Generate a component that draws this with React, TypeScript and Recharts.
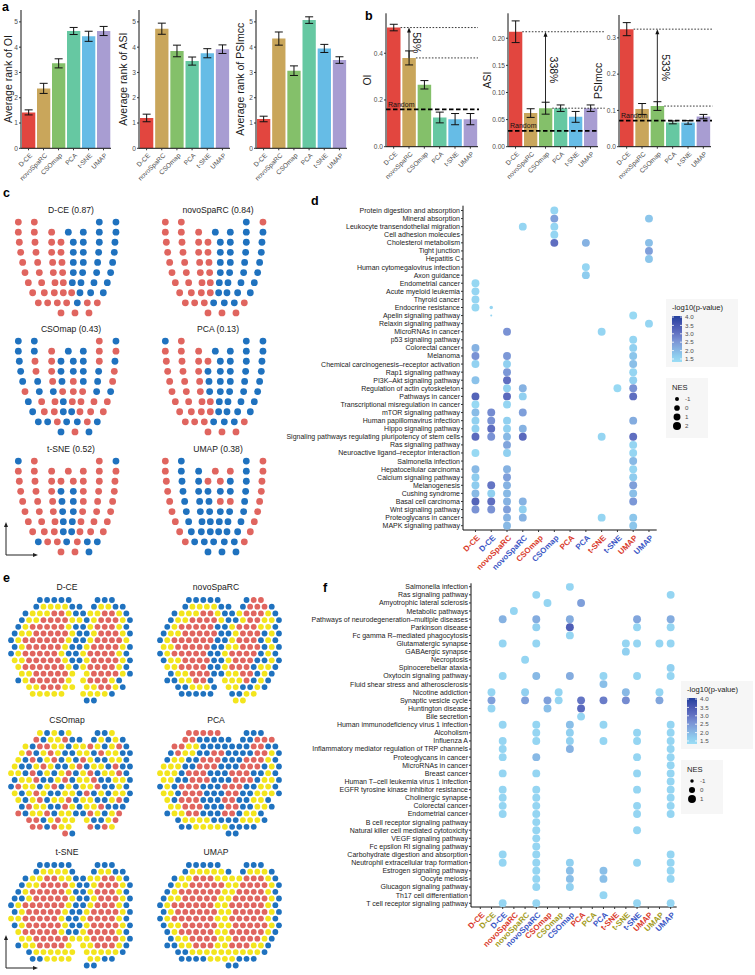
import React from 'react';
import { BarChart, Bar, XAxis, YAxis, Cell, ErrorBar, ReferenceLine, ScatterChart, Scatter } from 'recharts';

const FONT = '"Liberation Sans", Arial, Helvetica, sans-serif';
const INK = '#1a1a1a';
const TICK = '#4d4d4d';

// ---- panels a / b
const methods = ['D-CE', 'novoSpaRC', 'CSOmap', 'PCA', 't-SNE', 'UMAP'];
const methodColors = ['#E2463F', '#C9A65B', '#84C06A', '#66C8A2', '#66BCE6', '#A89DD2'];

const rankOI = [1.42, 2.37, 3.36, 4.64, 4.43, 4.64];
const rankOIErr = [0.1, 0.2, 0.18, 0.14, 0.2, 0.18];
const rankASI = [1.2, 4.73, 3.85, 3.45, 3.76, 3.92];
const rankASIErr = [0.15, 0.22, 0.23, 0.16, 0.18, 0.17];
const rankPSI = [1.16, 4.34, 3.07, 5.07, 3.95, 3.49];
const rankPSIErr = [0.11, 0.26, 0.19, 0.13, 0.16, 0.13];
const rankTicks = [0, 1, 2, 3, 4, 5];

const scoreOI = [0.51, 0.38, 0.265, 0.125, 0.118, 0.118];
const scoreOIErr = [0.014, 0.03, 0.018, 0.023, 0.024, 0.024];
const scoreASI = [0.212, 0.062, 0.071, 0.071, 0.055, 0.071];
const scoreASIErr = [0.02, 0.008, 0.011, 0.006, 0.01, 0.006];
const scorePSI = [0.324, 0.104, 0.112, 0.067, 0.067, 0.083];
const scorePSIErr = [0.018, 0.015, 0.012, 0.004, 0.005, 0.006];
const randomScores = [0.16, 0.029, 0.072];
const gainLabels = ['58%', '338%', '533%'];

// ---- panel c (spatial layout of cells, one string of colours per row)
const cRowX = [
  [55, 103, 298, 348],
  [55, 103, 155, 205, 250, 298, 348],
  [58, 105, 155, 183, 220, 250, 298, 345],
  [62, 108, 155, 183, 220, 250, 296, 343],
  [68, 113, 158, 186, 220, 250, 293, 338],
  [75, 118, 160, 188, 220, 248, 290, 332],
  [85, 125, 165, 190, 217, 243, 282, 322],
  [98, 133, 163, 190, 215, 240, 272, 310],
  [115, 143, 172, 200, 232, 262, 292],
  [183, 225, 267],
];
const cTitles = ['D-CE (0.87)', 'novoSpaRC (0.84)', 'CSOmap (0.43)', 'PCA (0.13)', 't-SNE (0.52)', 'UMAP (0.38)'];
const cDCE = ['rrbb', 'rrrbbbb', 'rrrrbbbb', 'rrrrbbbb', 'rrrrbbbb', 'rrrrbbbb', 'rrrrbbbb', 'rrrrrbbb', 'rrrrbrr', 'rrr'];
const cNovo = ['rrbr', 'rrrbbbb', 'rrrrbbbb', 'rrrrbbbb', 'rrrrbbbb', 'rrrrbbbb', 'rrrrbbbb', 'rrrrbbbb', 'rrrbbbr', 'rrr'];
const cCSO = ['bbrb', 'bbrbbrr', 'brrbbbrb', 'brrbbbbr', 'bbrbrbbr', 'rbbrrrbb', 'brrbrrrr', 'brrbbrrr', 'bbrbbrb', 'brb'];
const cPCA = ['brbb', 'rrrbbbb', 'rrrrbbbb', 'rrrbbbbb', 'rrrbbbbb', 'rrrbbbbb', 'rrrrbbbb', 'rrrrbbbb', 'rrrbbbr', 'rrr'];
const cTSNE = ['brrb', 'rrrrrrr', 'rrrrrrrr', 'rrrbbrrr', 'rrrbbrrr', 'rrrbbrrr', 'rrrbbrrr', 'rrrbbrrr', 'brrbrbb', 'rrb'];
const cUMAP = ['rbbr', 'rbbrrbr', 'rbbrrbbr', 'rbbbbbbr', 'rbbbrrbr', 'rbbbbbbr', 'rbbbbbbr', 'rbbbbbbr', 'rbbbbbr', 'bbb'];
const cColors = [cDCE, cNovo, cCSO, cPCA, cTSNE, cUMAP];

// ---- panel e (hex spots, '.' = no spot)
const eTitles = ['D-CE', 'novoSpaRC', 'CSOmap', 'PCA', 't-SNE', 'UMAP'];
const eDCE = [
  '....bbbbb...bbb..', '...byyyybb.byybb.', '..byyyrrybbyyrryb', '.byyrrrryybyrrryb',
  '.byrrrrrybbyrrryb', 'byyrrrrrybbyrrryb', 'byrrrrrrybbyrrrry', 'byrrrrrybbyrrrryb',
  'byrrrrrybbyrrrryb', 'yyrrrrrybbyrrrryb', '.yrrrrrrybyrrrryb', '.yyrrrrry.yrrrryb',
  '.byrrrrry.yrrryb.', '..yyrrryy.yyrryb.', '...yyyyy..yyyyb..', '..........bb.....',
];
const eNovo = [
  '....bbbbb...brr..', '...byyyybb.brrrb.', '..byyyrrybbyrrryb', '.byyrrrrybbyrryyb',
  '.byrrrrrbbyrrryyb', 'byyrrrrrbbyrrrbyb', 'byrrrrrrbbyrrrbyb', 'yyrrrrrbbyyrrrbyb',
  'byrrrrrbbyrrrrbyb', 'byyrrrrbbyrrrbbyb', '.yyrrrrbbyrrrbyyb', '.byyrrrbbyyrrbyb.',
  '.bbyyrrb.yyyrbyb.', '..bbyyyb.yybbyb..', '...bbbbb..bbyy...', '..........yy.....',
];
const eCSO = [
  '....ybyby...bby..', '...rbyyrbb.bybyb.', '..ybrryybyyrybyrb', '.yrbyrybbyybryybb',
  '.ybrbyrbybrybbyyb', 'ybbyrybbyrbyybrbb', 'yybrbybyrbyrbyyrb', 'byyrbbyrbyyrbbyyb',
  'bryybyrbybyyrbbyb', 'ybyrybbyybrbybyyb', '.ybyrbyyrbyybbyrb', '.bryybbrybyyrbbb.',
  '.rbyyrbyybbrybyr.', '..rrbyryy.ybbyr..', '...rrbryy..rbry..', '.......rb........',
];
const ePCA = [
  '....rrrrr...bbb..', '...rrbbbbb.bbrrr.', '..rryybbbbbbbrrbb', '.bryybbrrbbbbrryb',
  '.byybbrrrbbbrrryb', 'yyybbrrrbbbrrrbyb', 'yyybrrrbbbrrrbbyb', 'yybbrrrbbbrrrbyyb',
  'bybrrrbbbrrrbbyyb', 'yybrrrbbbrrbbyyyb', '.ybrrrbbbrrbbyyb.', '.yyrrrbbbrrbbyyb.',
  '.byyrrbbbrrbyyb..', '..byyyybbbbyyyb..', '...bbyyyyybbbb...', '.........bb......',
];
const eTSNE = [
  '....bbbbb...bbb..', '...byyyyb..byybb.', '..byyrryybbyyrryb', '.byyrrrrybbyrrryb',
  '.byrrrrrybbyrrryb', 'bbyrrrrrybbyrrryb', 'byrrrrrrybbyrrryb', 'byrrrrrybbyrrrryb',
  'yyrrrrrybbyrrrryb', 'byrrrrrybbyrrrryb', '.yrrrrrybbyrrrryb', '.yyrrrrryyyrrrryb',
  '.byyrrrry.yyrrryb', '..byyyyyy.yyyyyb.', '...bbyyyy..yybb..', '..........bb.....',
];
const eUMAP = [
  '....bbbbb...bbb..', '...byyyyyb.byyyb.', '..byyrrryyyyrrryb', '.byyrrrrryyrrrryb',
  '.byrrrrrryyrrrryb', 'byyrrrrryyrrrrryb', 'byrrrrrryyrrrrryb', 'byrrrrrryyrrrrryb',
  'byrrrrrryyrrrrryb', 'byyrrrrryyrrrrryb', '.byrrrrryyrrrrryb', '.byyrrrryyrrrryb.',
  '.bbyyrrryyrrryyb.', '..bbyyyyyyyyyyb..', '...bbbbyyyybbb...', '.........bb......',
];
const eMaps = [eDCE, eNovo, eCSO, ePCA, eTSNE, eUMAP];

// ---- panel d (KEGG enrichment, columns = method x domain)
const dPathways = [
  'Protein digestion and absorption', 'Mineral absorption', 'Leukocyte transendothelial migration', 'Cell adhesion molecules',
  'Cholesterol metabolism', 'Tight junction', 'Hepatitis C', 'Human cytomegalovirus infection', 'Axon guidance',
  'Endometrial cancer', 'Acute myeloid leukemia', 'Thyroid cancer', 'Endocrine resistance', 'Apelin signaling pathway',
  'Relaxin signaling pathway', 'MicroRNAs in cancer', 'p53 signaling pathway', 'Colorectal cancer', 'Melanoma',
  'Chemical carcinogenesis\u2013receptor activation', 'Rap1 signaling pathway', 'PI3K\u2013Akt signaling pathway',
  'Regulation of actin cytoskeleton', 'Pathways in cancer', 'Transcriptional misregulation in cancer', 'mTOR signaling pathway',
  'Human papillomavirus infection', 'Hippo signaling pathway', 'Signaling pathways regulating pluripotency of stem cells',
  'Ras signaling pathway', 'Neuroactive ligand\u2013receptor interaction', 'Salmonella infection', 'Hepatocellular carcinoma',
  'Calcium signaling pathway', 'Melanogenesis', 'Cushing syndrome', 'Basal cell carcinoma', 'Wnt signaling pathway',
  'Proteoglycans in cancer', 'MAPK signaling pathway',
];
const dGroups = ['red', 'blue'];
// per column: [row, -log10(p), NES]
const dHits = [
  [[10, 1.45, 1.9], [11, 1.5, 1.9], [12, 1.5, 1.9], [13, 1.45, 1.9], [18, 2.1, 1.9], [19, 2.6, 1.9], [20, 1.55, 1.9], [22, 1.85, 1.9], [24, 3.3, 1.9], [25, 1.4, 1.9], [26, 1.95, 1.9], [27, 1.6, 1.9], [28, 1.6, 1.9], [29, 3.2, 1.9], [31, 1.4, 1.9], [33, 2.0, 1.9], [34, 1.7, 1.9], [35, 1.7, 1.9], [36, 2.0, 1.9], [37, 3.3, 1.9], [38, 2.6, 1.9]],
  [[13, 1.5, -1.25], [14, 1.5, -1.75], [26, 2.7, 1.9], [27, 2.6, 1.9], [28, 3.1, 1.9], [29, 2.6, 1.9], [35, 3.0, 1.9], [36, 1.6, 1.9], [37, 3.1, 1.9], [38, 2.6, 1.9]],
  [[16, 2.6, 1.9], [19, 2.5, 1.9], [20, 1.6, 1.9], [21, 2.5, 1.9], [22, 3.1, 1.9], [23, 1.6, 1.9], [24, 3.2, 1.9], [25, 1.5, 1.9], [27, 1.6, 1.9], [28, 1.6, 1.9], [29, 2.0, 1.9], [30, 2.3, 1.9], [31, 1.6, 1.9], [33, 2.1, 1.9], [34, 2.4, 1.9], [35, 2.1, 1.9], [36, 2.0, 1.9], [37, 2.1, 1.9], [38, 2.4, 1.9], [39, 2.1, 1.9], [40, 2.0, 1.9]],
  [[3, 1.5, 1.9], [23, 2.1, 1.9], [24, 1.6, 1.9], [26, 2.4, 1.9], [28, 2.1, 1.9], [29, 3.2, 1.9], [37, 2.1, 1.9], [38, 1.6, 1.9], [39, 2.1, 1.9]],
  [],
  [[1, 1.5, 1.9], [2, 2.4, 1.9], [3, 1.5, 1.9], [4, 1.5, 1.9], [5, 3.1, 1.9]],
  [],
  [[5, 2.1, 1.9], [8, 1.5, 1.9], [9, 1.7, 1.9]],
  [[16, 1.5, 1.9], [29, 1.5, 1.9], [39, 1.5, 1.9]],
  [[23, 1.4, 1.9]],
  [[14, 1.4, 1.9], [17, 1.5, 1.9], [18, 1.6, 1.9], [19, 1.8, 1.9], [20, 1.9, 1.9], [21, 1.5, 1.9], [22, 1.6, 1.9], [23, 2.6, 1.9], [24, 3.1, 1.9], [27, 2.2, 1.9], [29, 3.1, 1.9], [30, 1.5, 1.9], [31, 1.5, 1.9], [32, 2.0, 1.9], [33, 1.5, 1.9], [34, 1.7, 1.9], [35, 2.4, 1.9], [36, 1.9, 1.9], [37, 2.5, 1.9], [39, 1.8, 1.9], [40, 1.8, 1.9]],
  [[2, 1.8, 1.9], [5, 1.9, 1.9], [6, 2.4, 1.9], [7, 1.8, 1.9], [15, 1.5, 1.9]],
];
const dNesTicks = [-1, 0, 1, 2];

// ---- panel f
const fPathways = [
  'Salmonella infection', 'Ras signaling pathway', 'Amyotrophic lateral sclerosis', 'Metabolic pathways',
  'Pathways of neurodegeneration\u2013multiple diseases', 'Parkinson disease', 'Fc gamma R\u2013mediated phagocytosis',
  'Glutamatergic synapse', 'GABAergic synapse', 'Necroptosis', 'Spinocerebellar ataxia', 'Oxytocin signaling pathway',
  'Fluid shear stress and atherosclerosis', 'Nicotine addiction', 'Synaptic vesicle cycle', 'Huntington disease',
  'Bile secretion', 'Human immunodeficiency virus 1 infection', 'Alcoholism', 'Influenza A',
  'Inflammatory mediator regulation of TRP channels', 'Proteoglycans in cancer', 'MicroRNAs in cancer', 'Breast cancer',
  'Human T\u2013cell leukemia virus 1 infection', 'EGFR tyrosine kinase inhibitor resistance', 'Cholinergic synapse',
  'Colorectal cancer', 'Endometrial cancer', 'B cell receptor signaling pathway', 'Natural killer cell mediated cytotoxicity',
  'VEGF signaling pathway', 'Fc epsilon RI signaling pathway', 'Carbohydrate digestion and absorption',
  'Neutrophil extracellular trap formation', 'Estrogen signaling pathway', 'Oocyte meiosis', 'Glucagon signaling pathway',
  'Th17 cell differentiation', 'T cell receptor signaling pathway',
];
const fGroups = ['red', 'olive', 'blue'];
const fHits = [
  [],
  [[14, 1.5, 1], [15, 2.4, 1], [16, 1.5, 1]],
  [[5, 2.1, 1], [8, 1.5, 1], [12, 1.5, 1], [18, 1.5, 1], [20, 1.5, 1], [21, 1.5, 1], [22, 1.5, 1], [24, 1.5, 1], [26, 1.5, 1], [27, 1.5, 1], [28, 1.5, 1], [29, 1.5, 1], [34, 1.5, 1], [35, 1.5, 1], [40, 1.5, 1]],
  [[4, 1.5, 1]],
  [[10, 1.5, 1], [14, 1.6, 1], [15, 2.4, 1]],
  [[2, 1.5, 1], [5, 2.2, 1], [6, 1.6, 1], [8, 1.5, 1], [12, 2.0, 1], [18, 1.5, 1], [19, 1.5, 1], [20, 1.5, 1], [22, 2.0, 1], [24, 1.5, 1], [26, 1.5, 1], [27, 1.5, 1], [28, 1.5, 1], [29, 1.5, 1], [30, 1.5, 1], [31, 1.5, 1], [32, 1.5, 1], [33, 1.5, 1], [34, 1.5, 1], [35, 1.5, 1], [36, 1.5, 1], [37, 1.5, 1], [38, 1.5, 1], [40, 1.5, 1]],
  [[3, 1.5, 1], [15, 2.4, 1], [16, 1.9, 1]],
  [[14, 1.5, 1], [15, 1.5, 1]],
  [[1, 1.5, 1], [5, 2.2, 1], [6, 3.4, 1], [7, 1.5, 1], [12, 2.2, 1], [18, 1.9, 1], [19, 1.6, 1], [20, 1.6, 1], [21, 2.1, 1], [35, 1.6, 1], [36, 1.9, 1], [37, 1.9, 1], [38, 1.6, 1]],
  [[3, 2.4, 1], [15, 3.0, 1], [16, 3.2, 1], [17, 1.5, 1]],
  [],
  [[12, 1.5, 1], [13, 1.9, 1], [15, 2.9, 1], [18, 1.5, 1], [20, 1.5, 1], [36, 1.9, 1], [37, 1.9, 1], [39, 1.5, 1]],
  [],
  [[8, 1.5, 1], [9, 1.6, 1], [14, 2.0, 1], [15, 2.7, 1]],
  [[5, 2.3, 1], [6, 1.5, 1], [8, 1.5, 1], [12, 1.5, 1], [19, 1.5, 1], [20, 1.5, 1], [22, 1.5, 1], [24, 1.5, 1], [26, 1.5, 1], [28, 1.5, 1], [29, 1.5, 1], [31, 1.5, 1], [35, 1.5, 1], [40, 1.5, 1]],
  [],
  [[8, 1.5, 1], [14, 1.5, 1], [15, 2.3, 1]],
  [[2, 1.5, 1], [5, 2.2, 1], [6, 1.5, 1], [8, 1.5, 1], [11, 1.6, 1], [12, 1.5, 1], [18, 1.5, 1], [19, 1.5, 1], [20, 1.5, 1], [21, 1.5, 1], [22, 1.5, 1], [23, 1.5, 1], [24, 1.5, 1], [25, 1.5, 1], [26, 1.5, 1], [27, 1.5, 1], [28, 1.5, 1], [29, 1.5, 1], [34, 1.5, 1], [35, 1.5, 1], [36, 1.5, 1], [37, 1.5, 1], [40, 1.5, 1]],
];
const fNesTicks = [-1, 0, 1];
const pTicks = [1.5, 2.0, 2.5, 3.0, 3.5, 4.0];

// ---- styling helpers
const groupColors: Record<string, string> = { red: '#D93A2B', olive: '#A39B22', blue: '#3A56C5' };
const spotColors: Record<string, string> = { r: '#E0655F', b: '#1F72BF', y: '#F3E51D' };
const pStops: [number, string][] = [
  [1.3, '#9BDDF5'], [1.7, '#8ECCEE'], [2.1, '#86B2E2'], [2.6, '#7A92D4'], [3.1, '#5F6EC0'], [3.6, '#4454AF'], [4.1, '#223F9C'],
];
const PMIN = 1.32;
const PMAX = 4.06;

function mix(a: string, b: string, t: number) {
  const pa = [1, 3, 5].map((i) => parseInt(a.slice(i, i + 2), 16));
  const pb = [1, 3, 5].map((i) => parseInt(b.slice(i, i + 2), 16));
  return 'rgb(' + pa.map((v, i) => Math.round(v + (pb[i] - v) * t)).join(',') + ')';
}
function pColor(v: number) {
  if (v <= pStops[0][0]) return pStops[0][1];
  for (let i = 1; i < pStops.length; i++) {
    if (v <= pStops[i][0]) {
      const [x0, c0] = pStops[i - 1];
      const [x1, c1] = pStops[i];
      return mix(c0, c1, (v - x0) / (x1 - x0));
    }
  }
  return pStops[pStops.length - 1][1];
}
const dRadius = (nes: number) => Math.sqrt(Math.max(0.8, 8 + 4 * nes));
const fRadius = (nes: number) => Math.sqrt(Math.max(0.8, 9.3 + 6.3 * nes));

// ---- shared pieces
const RotTick = (props: any) => {
  const { x, y, payload, labels, colors, fontSize, bold } = props;
  const i = payload.value;
  return (
    <g transform={`translate(${x},${y + 1})`}>
      <text transform="rotate(-45)" textAnchor="end" dy="0.72em" dx={1} fontSize={fontSize} fontFamily={FONT}
        fontWeight={bold ? 'bold' : 'normal'} fill={colors ? colors[i] : TICK}>
        {labels[i]}
      </text>
    </g>
  );
};

const NameTick = (props: any) => {
  const { x, y, payload, names } = props;
  return (
    <text x={x} y={y} dy="0.35em" textAnchor="end" fontSize={7} fontFamily={FONT} fill={INK}>
      {names[payload.value - 1]}
    </text>
  );
};

const Arrow = (props: any) => {
  const { x1, y1, x2, y2, label } = props;
  const mid = (y1 + y2) / 2;
  return (
    <g>
      <line x1={x1} y1={y1} x2={x2} y2={y2 + 3} stroke="#111" strokeWidth={0.9} />
      <path d={`M${x2},${y2} L${x2 - 2},${y2 + 5} L${x2 + 2},${y2 + 5} Z`} fill="#111" />
      <text transform={`translate(${x1 + 8},${mid}) rotate(90)`} textAnchor="middle" dy="0.35em" fontSize={10.5} fontFamily={FONT} fill="#111">
        {label}
      </text>
    </g>
  );
};

const RandomLine = (props: any) => {
  const { x1, y1, x2, y2 } = props;
  return (
    <g>
      <line x1={x1} y1={y1} x2={x2 + 1} y2={y2} stroke="#000" strokeWidth={1.8} strokeDasharray="4.5 2.5" />
      <text x={x1 + 2} y={y1 - 2.6} fontSize={7} fontFamily={FONT} fill="#111">Random</text>
    </g>
  );
};

function BarPanel(props: any) {
  const { left, yAxisW, plotW, extraR, top, bottom, values, errors, yMax, yTicks, digits, yLabel, labelOffset,
    barSize, random, upper, lower, lowerIdx, lineEnd, gain } = props;
  const data = methods.map((m, i) => ({ idx: i, v: values[i], e: errors[i] }));
  const H = 188;
  return (
    <div style={{ position: 'absolute', left, top: 0 }}>
      <BarChart width={yAxisW + plotW + extraR} height={H} data={data} margin={{ top, right: extraR, left: 0, bottom: 0 }}>
        <XAxis type="number" dataKey="idx" domain={[-0.5, 5.5]} ticks={[0, 1, 2, 3, 4, 5]} interval={0} allowDataOverflow
          height={H - bottom} tickSize={2} axisLine={{ stroke: '#111' }} tickLine={{ stroke: '#333' }}
          tick={(p: any) => <RotTick {...p} labels={methods} fontSize={6.6} />} />
        <YAxis type="number" domain={[0, yMax]} ticks={yTicks} interval={0} width={yAxisW} allowDataOverflow
          tickSize={2} tickMargin={1} axisLine={{ stroke: '#111' }} tickLine={{ stroke: '#333' }}
          tickFormatter={(v: number) => v.toFixed(digits)}
          tick={{ fontSize: 6.6, fill: TICK, fontFamily: FONT }}
          label={{ value: yLabel, angle: -90, position: 'insideLeft', offset: labelOffset, textAnchor: 'middle',
            style: { fontSize: 10.5, fill: INK, fontFamily: FONT } }} />
        <Bar dataKey="v" barSize={barSize} isAnimationActive={false}>
          {data.map((d, i) => <Cell key={i} fill={methodColors[i]} />)}
          <ErrorBar dataKey="e" width={4} stroke="#111" strokeWidth={1} direction="y" />
        </Bar>
        {upper !== undefined && (
          <ReferenceLine segment={[{ x: 0.45, y: upper }, { x: lineEnd, y: upper }]} ifOverflow="visible"
            stroke="#222" strokeWidth={0.9} strokeDasharray="1.6 1.6" />
        )}
        {upper !== undefined && (
          <ReferenceLine segment={[{ x: lowerIdx + 0.45, y: lower }, { x: lineEnd, y: lower }]} ifOverflow="visible"
            stroke="#222" strokeWidth={0.9} strokeDasharray="1.6 1.6" />
        )}
        {upper !== undefined && (
          <ReferenceLine segment={[{ x: lowerIdx, y: lower }, { x: lowerIdx, y: upper }]} ifOverflow="visible"
            shape={(p: any) => <Arrow {...p} label={gain} />} />
        )}
        {random !== undefined && (
          <ReferenceLine y={random} ifOverflow="visible" shape={(p: any) => <RandomLine {...p} />} />
        )}
      </BarChart>
    </div>
  );
}

function SpotChart({ left, top, width, height, points, xDomain, yDomain, r }: any) {
  return (
    <div style={{ position: 'absolute', left, top }}>
      <ScatterChart width={width} height={height} margin={{ top: 0, right: 0, bottom: 0, left: 0 }}>
        <XAxis type="number" dataKey="x" domain={xDomain} hide allowDataOverflow />
        <YAxis type="number" dataKey="y" domain={yDomain} reversed hide allowDataOverflow />
        <Scatter data={points} isAnimationActive={false}
          shape={(p: any) => <circle cx={p.cx} cy={p.cy} r={r} fill={spotColors[p.payload.k]} />} />
      </ScatterChart>
    </div>
  );
}

function DotPlot(props: any) {
  const { left, top, width, height, pathways, hits, labels, labelColors, yAxisW, marginTop, marginRight,
    xAxisH, xDomain, yDomain, radius } = props;
  const data: any[] = [];
  hits.forEach((col: any[], c: number) => col.forEach(([row, p, nes]) => data.push({ x: c, y: row, p, nes })));
  return (
    <div style={{ position: 'absolute', left, top }}>
      <ScatterChart width={width} height={height} margin={{ top: marginTop, right: marginRight, left: 0, bottom: 0 }}>
        <XAxis type="number" dataKey="x" domain={xDomain} ticks={labels.map((_: any, i: number) => i)} interval={0}
          allowDataOverflow height={xAxisH} tickSize={2} axisLine={{ stroke: '#111' }} tickLine={{ stroke: '#333' }}
          tick={(p: any) => <RotTick {...p} labels={labels} colors={labelColors} fontSize={8} bold />} />
        <YAxis type="number" dataKey="y" domain={yDomain} reversed allowDataOverflow
          ticks={pathways.map((_: any, i: number) => i + 1)} interval={0} width={yAxisW}
          tickSize={2} tickMargin={1} axisLine={{ stroke: '#111' }} tickLine={{ stroke: '#333' }}
          tick={(p: any) => <NameTick {...p} names={pathways} />} />
        <Scatter data={data} isAnimationActive={false}
          shape={(p: any) => <circle cx={p.cx} cy={p.cy} r={radius(p.payload.nes)} fill={pColor(p.payload.p)} />} />
      </ScatterChart>
    </div>
  );
}

function Legend2({ left, top, id, nesTicks, radius }: any) {
  const barTop = 18;
  const barH = 46;
  const yOf = (v: number) => barTop + barH * (PMAX - v) / (PMAX - PMIN);
  const nesY0 = 101;
  return (
    <svg style={{ position: 'absolute', left, top }} width={92} height={140}>
      <defs>
        <linearGradient id={id} x1="0" y1="1" x2="0" y2="0">
          {pStops.map(([v, c]) => (
            <stop key={v} offset={`${Math.max(0, Math.min(1, (v - PMIN) / (PMAX - PMIN))) * 100}%`} stopColor={c} />
          ))}
        </linearGradient>
      </defs>
      <rect x={2} y={1} width={72} height={68} fill="#f6f6f6" />
      <text x={8} y={12} fontSize={7.6} fontFamily={FONT} fill={INK}>-log10(p-value)</text>
      <rect x={8} y={barTop} width={10} height={barH} fill={`url(#${id})`} />
      {pTicks.map((v) => (
        <g key={v}>
          <line x1={8} x2={10} y1={yOf(v)} y2={yOf(v)} stroke="#fff" strokeWidth={0.8} />
          <line x1={16} x2={18} y1={yOf(v)} y2={yOf(v)} stroke="#fff" strokeWidth={0.8} />
          <text x={21} y={yOf(v)} dy="0.35em" fontSize={6.2} fontFamily={FONT} fill={TICK}>{v.toFixed(1)}</text>
        </g>
      ))}
      <rect x={2} y={80} width={42} height={nesTicks.length * 9 + 27} fill="#f6f6f6" />
      <text x={8} y={92} fontSize={7.6} fontFamily={FONT} fill={INK}>NES</text>
      {nesTicks.map((v: number, i: number) => (
        <g key={v}>
          <circle cx={13} cy={nesY0 + i * 9} r={radius(v)} fill="#000" />
          <text x={21} y={nesY0 + i * 9} dy="0.35em" fontSize={6.2} fontFamily={FONT} fill={TICK}>{v}</text>
        </g>
      ))}
    </svg>
  );
}

function CornerArrows({ x, y }: any) {
  return (
    <g>
      <line x1={x} y1={y} x2={x} y2={y - 30} stroke="#222" strokeWidth={1} />
      <path d={`M${x},${y - 33} L${x - 2},${y - 28} L${x + 2},${y - 28} Z`} fill="#222" />
      <line x1={x} y1={y} x2={x + 28} y2={y} stroke="#222" strokeWidth={1} />
      <path d={`M${x + 32},${y} L${x + 27},${y - 2} L${x + 27},${y + 2} Z`} fill="#222" />
    </g>
  );
}

export default function App() {
  const cPoints = cColors.map((rows) => {
    const pts: any[] = [];
    rows.forEach((s, r) => s.split('').forEach((k, j) => pts.push({ x: cRowX[r][j], y: r, k })));
    return pts;
  });
  const ePoints = eMaps.map((rows) => {
    const pts: any[] = [];
    rows.forEach((s, r) => s.split('').forEach((k, c) => { if (k !== '.') pts.push({ x: c + (r % 2) * 0.5, y: r, k }); }));
    return pts;
  });
  const cLeft = [10, 156.7];
  const cTop = [216, 335, 455];
  const eLeft = [6, 155];
  const eTop = [596, 729, 861];
  const dLabels = methods.flatMap((m) => dGroups.map(() => m));
  const dLabelColors = methods.flatMap(() => dGroups.map((g) => groupColors[g]));
  const fLabels = methods.flatMap((m) => fGroups.map(() => m));
  const fLabelColors = methods.flatMap(() => fGroups.map((g) => groupColors[g]));

  return (
    <div style={{ position: 'absolute', left: 0, top: 0, width: 755, height: 975, background: '#fff', fontFamily: FONT, overflow: 'hidden' }}>
      {/* a */}
      <BarPanel left={0} yAxisW={21} plotW={90} extraR={2} top={10} bottom={148.3} values={rankOI} errors={rankOIErr}
        yMax={5.47} yTicks={rankTicks} digits={0} yLabel="Average rank of OI" labelOffset={8.5} barSize={13.3} />
      <BarPanel left={117} yAxisW={22} plotW={91} extraR={2} top={10} bottom={148.3} values={rankASI} errors={rankASIErr}
        yMax={5.47} yTicks={rankTicks} digits={0} yLabel="Average rank of ASI" labelOffset={6} barSize={13.3} />
      <BarPanel left={234} yAxisW={22} plotW={91} extraR={2} top={10} bottom={148.3} values={rankPSI} errors={rankPSIErr}
        yMax={5.47} yTicks={rankTicks} digits={0} yLabel="Average rank of PSImcc" labelOffset={6} barSize={13.3} />
      {/* b */}
      <BarPanel left={355} yAxisW={31} plotW={92} extraR={2} top={13.3} bottom={146.7} values={scoreOI} errors={scoreOIErr}
        yMax={0.571} yTicks={[0, 0.2, 0.4]} digits={1} yLabel="OI" labelOffset={12} barSize={13.5}
        random={randomScores[0]} upper={scoreOI[0]} lower={scoreOI[1]} lowerIdx={1} lineEnd={5.5} gain={gainLabels[0]} />
      <BarPanel left={478} yAxisW={30} plotW={90} extraR={10} top={13.3} bottom={146.7} values={scoreASI} errors={scoreASIErr}
        yMax={0.246} yTicks={[0, 0.05, 0.1, 0.15, 0.2]} digits={2} yLabel="ASI" labelOffset={9} barSize={13.3}
        random={randomScores[1]} upper={scoreASI[0]} lower={scoreASI[2]} lowerIdx={2} lineEnd={5.95} gain={gainLabels[1]} />
      <BarPanel left={587} yAxisW={32} plotW={92} extraR={3} top={15} bottom={146.7} values={scorePSI} errors={scorePSIErr}
        yMax={0.363} yTicks={[0, 0.1, 0.2, 0.3]} digits={1} yLabel="PSImcc" labelOffset={11} barSize={13.5}
        random={randomScores[2]} upper={scorePSI[0]} lower={scorePSI[2]} lowerIdx={2} lineEnd={5.6} gain={gainLabels[2]} />

      {/* c */}
      {cPoints.map((pts, i) => (
        <SpotChart key={'c' + i} left={cLeft[i % 2]} top={cTop[Math.floor(i / 2)]} width={113.3} height={103}
          points={pts} xDomain={[30, 370]} yDomain={[-0.6, 9.6]} r={3.4} />
      ))}
      {/* e */}
      {ePoints.map((pts, i) => (
        <SpotChart key={'e' + i} left={eLeft[i % 2]} top={eTop[Math.floor(i / 2)]} width={129} height={108.5}
          points={pts} xDomain={[-0.7, 17.2]} yDomain={[-0.6, 15.6]} r={2.9} />
      ))}

      {/* d */}
      <DotPlot left={265} top={190} width={405} height={390} pathways={dPathways} hits={dHits}
        labels={dLabels} labelColors={dLabelColors} yAxisW={198} marginTop={15.7} marginRight={13.3} xAxisH={50}
        xDomain={[-0.79, 11.49]} yDomain={[0.406, 40.53]} radius={dRadius} />
      <Legend2 left={664} top={298} id="gd" nesTicks={dNesTicks} radius={dRadius} />

      {/* f */}
      <DotPlot left={291} top={570} width={389} height={390} pathways={fPathways} hits={fHits}
        labels={fLabels} labelColors={fLabelColors} yAxisW={180} marginTop={13.3} marginRight={3.3} xAxisH={53}
        xDomain={[-0.83, 17.54]} yDomain={[0.58, 40.46]} radius={fRadius} />
      <Legend2 left={679} top={680} id="gf" nesTicks={fNesTicks} radius={fRadius} />

      <svg style={{ position: 'absolute', left: 0, top: 0, pointerEvents: 'none' }} width={755} height={975}>
        <g fontFamily={FONT} fontWeight="bold" fontSize={12.5} fill="#000">
          <text x={2} y={11}>a</text>
          <text x={365} y={20}>b</text>
          <text x={3} y={197}>c</text>
          <text x={311} y={205}>d</text>
          <text x={3} y={582}>e</text>
          <text x={323} y={592}>f</text>
        </g>
        <g fontFamily={FONT} fontSize={8.6} fill={INK} textAnchor="middle">
          {cTitles.map((t, i) => (
            <text key={t} x={[71, 218][i % 2]} y={cTop[Math.floor(i / 2)] - 3}>{t}</text>
          ))}
          {eTitles.map((t, i) => (
            <text key={t} x={[67, 216][i % 2]} y={eTop[Math.floor(i / 2)] - 6}>{t}</text>
          ))}
        </g>
        <CornerArrows x={6} y={555} />
        <CornerArrows x={6} y={968} />
      </svg>
    </div>
  );
}
